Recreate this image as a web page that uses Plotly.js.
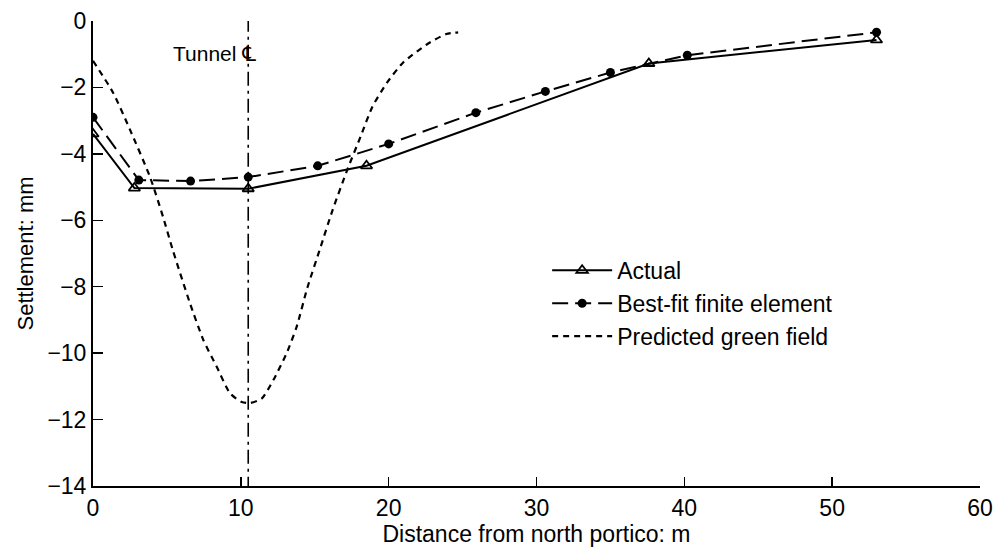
<!DOCTYPE html>
<html>
<head>
<meta charset="utf-8">
<script src="https://cdn.plot.ly/plotly-3.0.1.min.js"></script>
<style>html,body{margin:0;padding:0;background:#fff;}#chart{width:1003px;height:557px;}</style>
</head>
<body>
<div id="chart"></div>
<script>
// Actual measured settlement
const actualX = [0, 2.8, 10.5, 18.5, 37.6, 53];
const actualY = [-3.4, -5.03, -5.05, -4.36, -1.28, -0.57];

// Best-fit finite element
const feX = [0, 3.1, 6.6, 10.5, 15.2, 20.0, 25.9, 30.6, 35.0, 40.2, 53];
const feY = [-2.9, -4.79, -4.82, -4.7, -4.36, -3.7, -2.76, -2.12, -1.55, -1.03, -0.34];

// Predicted green field
const gfX = [0, 1.35, 2.5, 3.86, 4.74, 5.4, 6.56, 7.47, 8.37, 9.27, 10.06, 10.62, 11.41, 12.2, 13.1, 13.78, 14.5, 15.4, 16.2, 17.2, 18.1, 18.9, 19.9, 21.0, 22.6, 23.9, 24.7];
const gfY = [-1.2, -2.15, -3.27, -4.7, -5.9, -6.9, -8.5, -9.61, -10.41, -11.21, -11.47, -11.5, -11.37, -10.81, -10.0, -9.2, -8.03, -6.8, -5.7, -4.48, -3.48, -2.58, -1.85, -1.24, -0.7, -0.39, -0.34];

// Tunnel centre line
const tunnelX = [10.5, 10.5];
const tunnelY = [0.1, -14];

const xTicks = [0, 10, 20, 30, 40, 50, 60];
const yTicks = [0, -2, -4, -6, -8, -10, -12, -14];
const yTickText = ['0', '\u22122', '\u22124', '\u22126', '\u22128', '\u221210', '\u221212', '\u221214'];

const FONT = 'Liberation Sans, Arial, Helvetica, sans-serif';

const traces = [
  {x: tunnelX, y: tunnelY, mode: 'lines', showlegend: false, hoverinfo: 'skip',
   line: {color: '#000', width: 1.6, dash: '14px,5px,3px,5px'}},
  {x: actualX, y: actualY, mode: 'lines+markers', name: 'Actual',
   line: {color: '#000', width: 2}, marker: {symbol: 'triangle-up-open', size: 10, color: '#000', line: {width: 1.8, color: '#000'}}},
  {x: feX, y: feY, mode: 'lines+markers', name: 'Best-fit finite element',
   line: {color: '#000', width: 2, dash: '16px,7px'}, marker: {symbol: 'circle', size: 9, color: '#000'}},
  {x: gfX, y: gfY, mode: 'lines', name: 'Predicted green field',
   line: {color: '#000', width: 2.2, dash: '6px,5px', shape: 'spline', smoothing: 0.6}}
];

const layout = {
  width: 1003, height: 557,
  margin: {l: 93, r: 23, t: 21, b: 71},
  paper_bgcolor: '#fff', plot_bgcolor: '#fff',
  font: {family: FONT, color: '#000', size: 22},
  showlegend: true,
  legend: {x: 0.512, y: 0.51, xanchor: 'left', yanchor: 'top', bgcolor: 'rgba(0,0,0,0)',
    font: {family: FONT, size: 23, color: '#000'}, itemwidth: 60, tracegroupgap: 0},
  xaxis: {range: [0, 60], tickvals: xTicks, ticktext: xTicks.map(String), ticks: 'inside', ticklen: 9, tickwidth: 1.5,
    tickcolor: '#000', showline: true, linecolor: '#000', linewidth: 2, showgrid: false, zeroline: false,
    tickfont: {family: FONT, size: 23, color: '#000'},
    title: {text: 'Distance from north portico: m', font: {family: FONT, size: 23, color: '#000'}, standoff: 2}},
  yaxis: {range: [-14, 0], tickvals: yTicks, ticktext: yTickText, ticks: 'inside', ticklen: 10, tickwidth: 1.5,
    tickcolor: '#000', showline: true, linecolor: '#000', linewidth: 2, showgrid: false, zeroline: false,
    tickfont: {family: FONT, size: 23, color: '#000'},
    title: {text: 'Settlement: mm', font: {family: FONT, size: 22, color: '#000'}, standoff: 8}},
  annotations: [
    {x: 10.5, y: -1.0, xref: 'x', yref: 'y',
     text: 'Tunnel <span style="font-family:DejaVu Sans">\u2104</span>', showarrow: false, xanchor: 'right', xshift: 10,
     font: {family: FONT, size: 21, color: '#000'}}
  ]
};

Plotly.newPlot('chart', traces, layout, {staticPlot: true, displayModeBar: false});
</script>
</body>
</html>
